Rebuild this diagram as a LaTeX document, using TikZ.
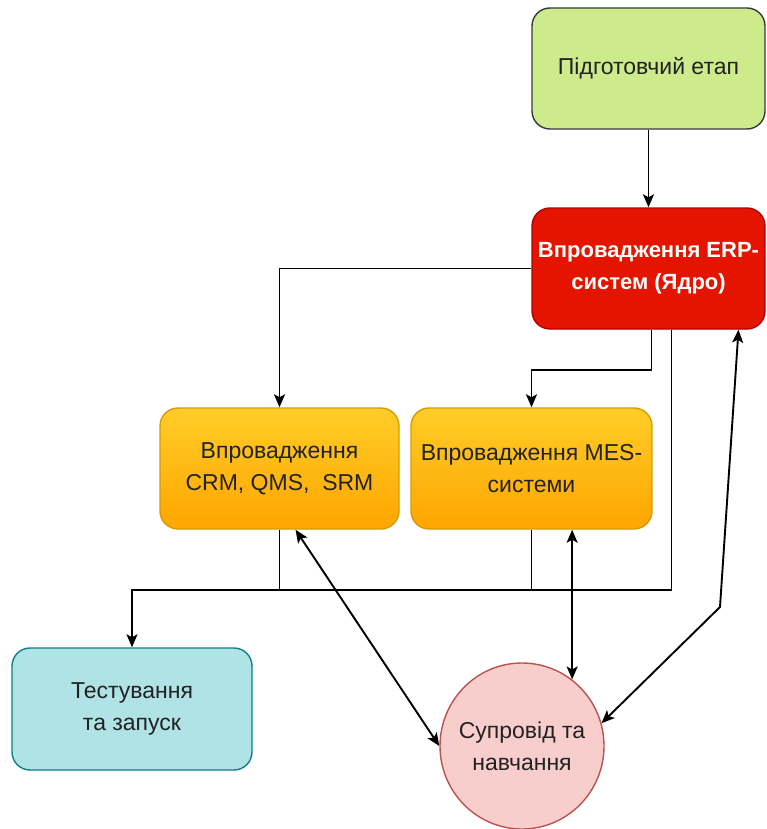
\documentclass[tikz,border=0pt]{standalone}
\usepackage{fontspec}
\setmainfont{Liberation Sans}
\usetikzlibrary{shapes.geometric,arrows.meta,calc}
\definecolor{gfill}{HTML}{CDEB8B}
\definecolor{gdraw}{HTML}{36393D}
\definecolor{rfill}{HTML}{E51400}
\definecolor{rdraw}{HTML}{B20000}
\definecolor{otop}{HTML}{FFCD28}
\definecolor{obot}{HTML}{FFA500}
\definecolor{odraw}{HTML}{D79B00}
\definecolor{cfill}{HTML}{B0E3E6}
\definecolor{cdraw}{HTML}{0E8088}
\definecolor{pfill}{HTML}{F8CECC}
\definecolor{pdraw}{HTML}{B85450}
\definecolor{txt}{HTML}{222222}
\tikzset{
  box/.style={rectangle, rounded corners=18pt, line width=1.4pt, align=center,
    text=txt, font=\fontsize{23}{32}\selectfont, inner sep=0pt},
  arr/.style={line width=1.9pt, -{Stealth[length=13pt,width=11pt,inset=3pt]}},
  biarr/.style={line width=1.9pt, {Stealth[length=13pt,width=11pt,inset=3pt]}-{Stealth[length=13pt,width=11pt,inset=3pt]}},
  ln/.style={line width=1.9pt}
}
\begin{document}
\begin{tikzpicture}[x=1pt,y=-1pt]
\useasboundingbox (0,0) rectangle (766,829);
\node[box, fill=gfill, draw=gdraw, minimum width=233pt, minimum height=121pt] (prep) at (648.5,68.5) {Підготовчий етап};
\node[box, fill=rfill, draw=rdraw, text=white, font=\fontsize{22}{32}\selectfont\bfseries, minimum width=233pt, minimum height=121pt] (erp) at (648.5,268.5) {Впровадження ERP-\\систем (Ядро)};
\node[box, top color=otop, bottom color=obot, draw=odraw, minimum width=239pt, minimum height=121pt] (crm) at (279.5,468.5) {Впровадження\\CRM, QMS,\ \ SRM};
\node[box, top color=otop, bottom color=obot, draw=odraw, minimum width=241pt, minimum height=121pt] (mes) at (531.5,468.5) {Впровадження MES-\\системи};
\node[box, fill=cfill, draw=cdraw, minimum width=240pt, minimum height=122pt] (test) at (132,709) {Тестування\\та запуск};
\node[ellipse, fill=pfill, draw=pdraw, line width=1.4pt, minimum width=164pt, minimum height=166pt, inner sep=-20pt, align=center, text=txt, font=\fontsize{23}{32}\selectfont] (sup) at (522,746) {Супровід та\\навчання};
\coordinate (bend) at (720,607);
% connectors
\draw[arr] (prep.south) -- (erp.north);
\draw[arr] (erp.west) -| (crm.north);
\draw[arr] ([xshift=3pt]erp.south) -- ++(0,40) -| (mes.north);
\draw[arr] ([xshift=23pt]erp.south) -- ++(0,260) -| (test.north);
\draw[ln] (crm.south) -- ++(0,59);
\draw[ln] (mes.south) -- ++(0,59);
\draw[biarr] ([xshift=16pt]crm.south) -- (sup.west);
\draw[biarr] (sup.53 |- mes.south) -- (sup.53);
\draw[biarr] ([xshift=90pt]erp.south) -- (bend) -- (sup.16);
\end{tikzpicture}
\end{document}
